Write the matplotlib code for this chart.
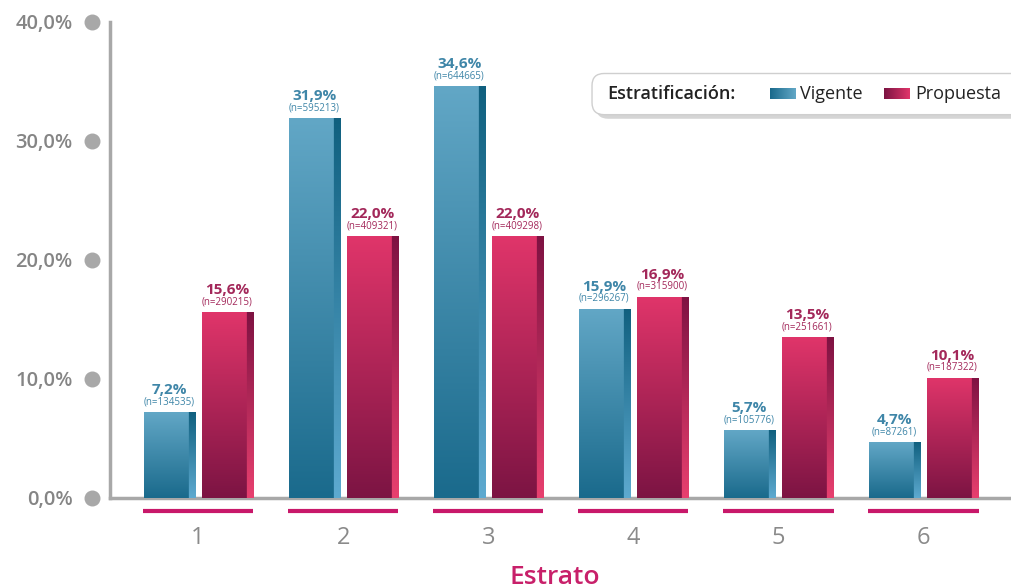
import matplotlib.pyplot as plt
import matplotlib.transforms as mtransforms
from matplotlib.patches import FancyBboxPatch
import matplotlib.colors as mcolors
import numpy as np

plt.rcParams['font.family'] = ['Open Sans', 'DejaVu Sans']

estratos = ['1', '2', '3', '4', '5', '6']
vigente = [7.2, 31.9, 34.6, 15.9, 5.7, 4.7]
propuesta = [15.6, 22.0, 22.0, 16.9, 13.5, 10.1]
n_vigente = [134535, 595213, 644665, 296267, 105776, 87261]
n_propuesta = [290215, 409321, 409298, 315900, 251661, 187322]
yticks = [0, 10, 20, 30, 40]

BLUE = dict(face_top='#62a7c6', face_bot='#1a6a8c', side_top='#10607f', side_bot='#5eaad0',
            text='#3f86a8')
PINK = dict(face_top='#e0356a', face_bot='#7c1443', side_top='#7e1242', side_bot='#e8406f',
            text='#a3285a')
GREY = '#a8a8a8'


def gradient_img(c, nrows=200, ncols=51, side=7):
    top_f, bot_f = np.array(mcolors.to_rgb(c['face_top'])), np.array(mcolors.to_rgb(c['face_bot']))
    top_s, bot_s = np.array(mcolors.to_rgb(c['side_top'])), np.array(mcolors.to_rgb(c['side_bot']))
    t = np.linspace(0, 1, nrows)[:, None]
    face = top_f * (1 - t) + bot_f * t
    sd = top_s * (1 - t) + bot_s * t
    img = np.zeros((nrows, ncols, 3))
    img[:, :ncols - side] = face[:, None, :]
    img[:, ncols - side:] = sd[:, None, :]
    return img


def fill_bars(ax, bars, c):
    img = gradient_img(c)
    for b in bars:
        x, y = b.get_x(), b.get_y()
        w, h = b.get_width(), b.get_height()
        im = ax.imshow(img, extent=(x, x + w, y, y + h), aspect='auto', zorder=3, interpolation='bilinear')
        im.set_clip_path(b)


fig = plt.figure(figsize=(10.12, 5.88), dpi=100)
ax = fig.add_axes([0.1087, 0.1531, 0.8913, 0.8095])

x = np.arange(1, len(estratos) + 1)
w = 0.352
off = 0.2
bv = ax.bar(x - off, vigente, w, color='none', edgecolor='none', zorder=2)
bp = ax.bar(x + off, propuesta, w, color='none', edgecolor='none', zorder=2)
fill_bars(ax, bv, BLUE)
fill_bars(ax, bp, PINK)

for xs, vals, ns, c in [(x - off, vigente, n_vigente, BLUE), (x + off, propuesta, n_propuesta, PINK)]:
    for xi, v, n in zip(xs, vals, ns):
        ax.annotate(f'{v:.1f}'.replace('.', ',') + '%', (xi, v), xytext=(0, 16),
                    textcoords='offset points', ha='center', va='center',
                    fontsize=11, fontweight='bold', color=c['text'], zorder=4)
        ax.annotate(f'(n={n})', (xi, v), xytext=(0, 7.5), textcoords='offset points',
                    ha='center', va='center', fontsize=7, color=c['text'], zorder=4)

ax.set_xlim(0.393, 6.61)
ax.set_ylim(0, 40)

for s in ['top', 'right']:
    ax.spines[s].set_visible(False)
for s in ['left', 'bottom']:
    ax.spines[s].set_color(GREY)
    ax.spines[s].set_linewidth(2.5)

ax.set_yticks(yticks)
ax.set_yticklabels([f'{t:.1f}'.replace('.', ',') + '%' for t in yticks])
ax.tick_params(axis='y', length=0, pad=27, labelsize=14.5, labelcolor='#858585')
for lab in ax.get_yticklabels():
    lab.set_fontweight('semibold')

# grey dots at ticks
trans_y = mtransforms.blended_transform_factory(ax.transAxes, ax.transData)
ax.scatter([-0.02] * len(yticks), yticks, s=110, color=GREY, transform=trans_y, clip_on=False, zorder=5)

ax.set_xticks(x)
ax.set_xticklabels(estratos)
ax.tick_params(axis='x', length=0, pad=20, labelsize=17, labelcolor='#8a8a8a')

# pink underlines per group
trans_x = mtransforms.blended_transform_factory(ax.transData, ax.transAxes)
ax.hlines([-0.027] * len(x), x - 0.38, x + 0.38, color='#c8186a', lw=3, transform=trans_x, clip_on=False)

ax.set_xlabel('Estrato', fontsize=19, color='#c8206a', fontweight='semibold')
ax.xaxis.set_label_coords(0.493, -0.14)

# legend box
shadow = FancyBboxPatch((0.589, 0.798), 0.45, 0.07, boxstyle='round,pad=0,rounding_size=0.012',
                        transform=fig.transFigure, facecolor='#d5d5d5', edgecolor='none',
                        zorder=1, mutation_aspect=1.7)
fig.patches.append(shadow)
box = FancyBboxPatch((0.585, 0.805), 0.45, 0.07, boxstyle='round,pad=0,rounding_size=0.012',
                     transform=fig.transFigure, facecolor='white', edgecolor='#cfcfcf', lw=1,
                     zorder=2, mutation_aspect=1.7)
fig.patches.append(box)
fig.text(0.600, 0.840, 'Estratificación:', fontsize=13, fontweight='semibold', color='#222222',
         va='center', ha='left', zorder=4)
for x0, c, lab in [(0.761, BLUE, 'Vigente'), (0.874, PINK, 'Propuesta')]:
    sw = fig.add_axes([x0, 0.831, 0.025, 0.019], zorder=5)
    g = np.linspace(0, 1, 50)[None, :, None]
    dark = np.array(mcolors.to_rgb(c['face_bot']))
    light = np.array(mcolors.to_rgb(c['face_top']))
    sw.imshow(dark * (1 - g) + light * g, aspect='auto', extent=(0, 1, 0, 1))
    sw.axis('off')
    fig.text(x0 + 0.030, 0.840, lab, fontsize=13, color='#222222', va='center', ha='left', zorder=4)

fig.savefig('out.png', dpi=100)
